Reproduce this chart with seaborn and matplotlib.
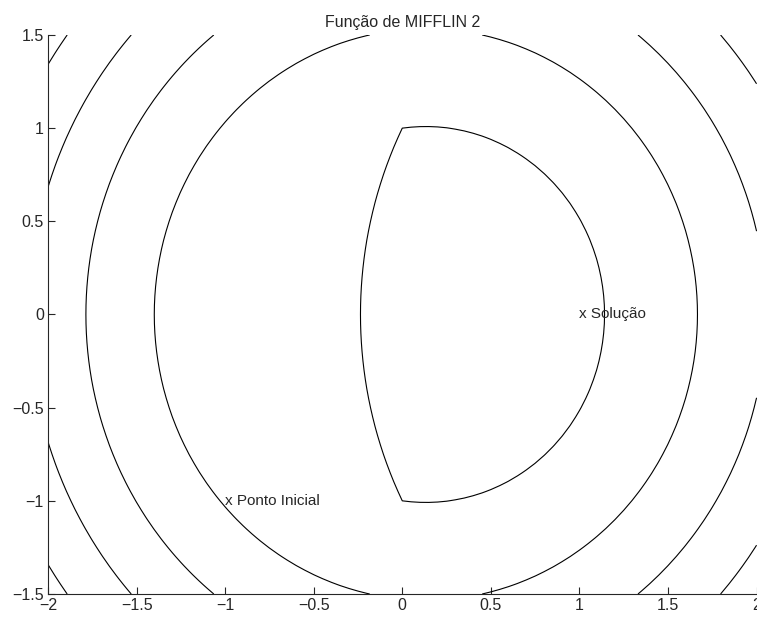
import numpy as np
import matplotlib
matplotlib.use("Agg")
import matplotlib.pyplot as plt
import seaborn as sns
from matplotlib.ticker import FuncFormatter

# estilo simples, sem grade
sns.set_style("ticks")
plt.rcParams['font.family'] = ['Liberation Sans', 'DejaVu Sans']

# dados
niveis = [0, 5, 10, 15, 20]          # níveis das curvas de contorno
x_lim = [-2, 2]
y_lim = [-1.5, 1.5]
x_ticks = [-2, -1.5, -1, -0.5, 0, 0.5, 1, 1.5, 2]
y_ticks = [-1.5, -1, -0.5, 0, 0.5, 1, 1.5]
ponto_inicial = (-1, -1)
solucao = (1, 0)


# função de Mifflin 2
def mifflin2(x1, x2):
    r = x1**2 + x2**2 - 1
    return -x1 + 2 * r + 1.75 * np.abs(r)


xs = np.linspace(x_lim[0], x_lim[1], 81)
ys = np.linspace(y_lim[0], y_lim[1], 61)
X, Y = np.meshgrid(xs, ys)
Z = mifflin2(X, Y)

fig = plt.figure(figsize=(7.57, 6.19), dpi=100)
ax = fig.add_axes([0.0634, 0.0404, 0.936, 0.9031])

ax.contour(X, Y, Z, levels=niveis, colors='black', linewidths=0.8)

ax.text(ponto_inicial[0], ponto_inicial[1], 'x Ponto Inicial', fontsize=11,
        ha='left', va='center')
ax.text(solucao[0], solucao[1], 'x Solução', fontsize=11,
        ha='left', va='center')

# rótulos no estilo do MATLAB: sinal de menos longo, sem zeros extras
fmt = FuncFormatter(lambda v, p: ('%g' % v).replace('-', '\u2212'))

ax.set_xlim(x_lim)
ax.set_ylim(y_lim)
ax.set_xticks(x_ticks)
ax.set_yticks(y_ticks)
ax.xaxis.set_major_formatter(fmt)
ax.yaxis.set_major_formatter(fmt)
ax.tick_params(direction='in', length=5, width=0.8, labelsize=11.5, pad=3)
sns.despine(ax=ax)
ax.spines['left'].set_linewidth(0.8)
ax.spines['bottom'].set_linewidth(0.8)
ax.set_title('Função de MIFFLIN 2', fontsize=11.5, pad=6)

fig.savefig('out.png', dpi=100)
